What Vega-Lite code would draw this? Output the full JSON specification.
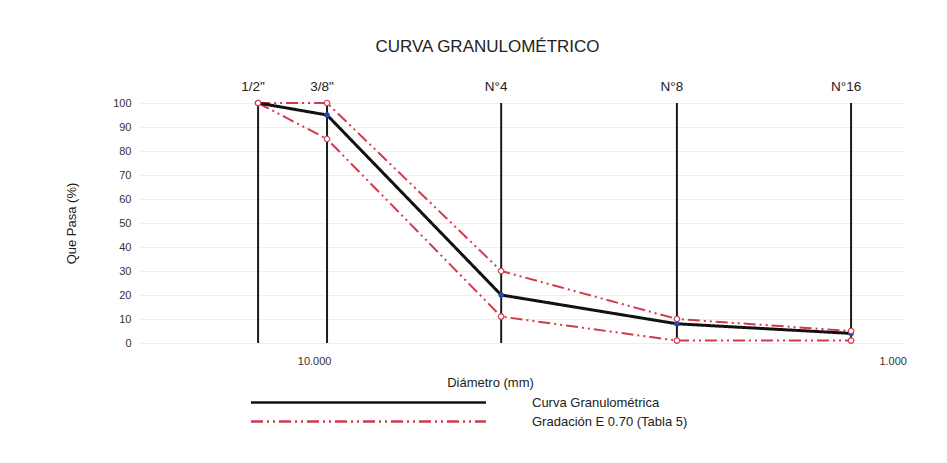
{
  "$schema": "https://vega.github.io/schema/vega-lite/v6.json",
  "width": 765,
  "height": 240,
  "autosize": {"type": "none"},
  "padding": {"left": 140, "top": 103, "right": 42, "bottom": 120},
  "background": "white",
  "config": {
    "view": {"stroke": null},
    "font": "Liberation Sans",
    "axis": {"labelFont": "Liberation Sans", "titleFont": "Liberation Sans", "labelColor": "#333", "titleColor": "#222", "titleFontWeight": "normal"},
    "legend": {"labelFont": "Liberation Sans"}
  },
  "title": {
    "text": "CURVA GRANULOMÉTRICO",
    "fontSize": 17,
    "fontWeight": "normal",
    "color": "#222",
    "dx": -35,
    "offset": 24
  },
  "datasets": {
    "curvas": [
      {"serie": "Gradación E 0.70 (Tabla 5)", "limite": "superior", "d": 12.5, "pasa": 100},
      {"serie": "Gradación E 0.70 (Tabla 5)", "limite": "superior", "d": 9.5, "pasa": 100},
      {"serie": "Gradación E 0.70 (Tabla 5)", "limite": "superior", "d": 4.75, "pasa": 30},
      {"serie": "Gradación E 0.70 (Tabla 5)", "limite": "superior", "d": 2.36, "pasa": 10},
      {"serie": "Gradación E 0.70 (Tabla 5)", "limite": "superior", "d": 1.18, "pasa": 5},
      {"serie": "Gradación E 0.70 (Tabla 5)", "limite": "inferior", "d": 12.5, "pasa": 100},
      {"serie": "Gradación E 0.70 (Tabla 5)", "limite": "inferior", "d": 9.5, "pasa": 85},
      {"serie": "Gradación E 0.70 (Tabla 5)", "limite": "inferior", "d": 4.75, "pasa": 11},
      {"serie": "Gradación E 0.70 (Tabla 5)", "limite": "inferior", "d": 2.36, "pasa": 1},
      {"serie": "Gradación E 0.70 (Tabla 5)", "limite": "inferior", "d": 1.18, "pasa": 1},
      {"serie": "Curva Granulométrica", "limite": "muestra", "d": 12.5, "pasa": 100},
      {"serie": "Curva Granulométrica", "limite": "muestra", "d": 9.5, "pasa": 95},
      {"serie": "Curva Granulométrica", "limite": "muestra", "d": 4.75, "pasa": 20},
      {"serie": "Curva Granulométrica", "limite": "muestra", "d": 2.36, "pasa": 8},
      {"serie": "Curva Granulométrica", "limite": "muestra", "d": 1.18, "pasa": 4}
    ]
  },
  "layer": [
    {
      "data": {"values": [
        {"tamiz": "1/2\"", "d": 12.5, "lo": 0, "hi": 100},
        {"tamiz": "3/8\"", "d": 9.5, "lo": 0, "hi": 100},
        {"tamiz": "N°4", "d": 4.75, "lo": 0, "hi": 100},
        {"tamiz": "N°8", "d": 2.36, "lo": 0, "hi": 100},
        {"tamiz": "N°16", "d": 1.18, "lo": 0, "hi": 100}
      ]},
      "layer": [
        {
          "mark": {"type": "rule", "color": "#1a1a1a", "strokeWidth": 2},
          "encoding": {
            "x": {"field": "d", "type": "quantitative"},
            "y": {"field": "lo", "type": "quantitative"},
            "y2": {"field": "hi"}
          }
        },
        {
          "mark": {"type": "text", "baseline": "bottom", "align": "center", "dy": -9, "dx": -5, "fontSize": 13.5, "color": "#222"},
          "encoding": {
            "x": {"field": "d", "type": "quantitative"},
            "y": {"field": "hi", "type": "quantitative"},
            "text": {"field": "tamiz"}
          }
        }
      ]
    },
    {
      "data": {"name": "curvas"},
      "transform": [{"filter": "datum.limite !== 'muestra'"}],
      "mark": {"type": "line", "strokeWidth": 2},
      "encoding": {
        "x": {"field": "d", "type": "quantitative"},
        "y": {"field": "pasa", "type": "quantitative"},
        "detail": {"field": "limite"},
        "color": {
          "field": "serie",
          "type": "nominal",
          "scale": {"domain": ["Curva Granulométrica", "Gradación E 0.70 (Tabla 5)"], "range": ["#111111", "#d23a4c"]},
          "legend": {
            "title": null,
            "orient": "none",
            "legendX": 222,
            "legendY": 293,
            "padding": 0,
            "symbolType": "M-23.5,0H23.5",
            "symbolSize": 100,
            "symbolStrokeWidth": 2.5,
            "labelOffset": 157,
            "labelFontSize": 13,
            "labelColor": "#222",
            "rowPadding": 5,
            "labelLimit": 400
          }
        },
        "strokeDash": {
          "field": "serie",
          "type": "nominal",
          "scale": {"domain": ["Curva Granulométrica", "Gradación E 0.70 (Tabla 5)"], "range": [[1, 0], [12, 4, 2, 4, 2, 4]]},
          "legend": {
            "title": null,
            "orient": "none",
            "legendX": 222,
            "legendY": 293,
            "padding": 0,
            "symbolType": "M-23.5,0H23.5",
            "symbolSize": 100,
            "symbolStrokeWidth": 2.5,
            "labelOffset": 157,
            "labelFontSize": 13,
            "labelColor": "#222",
            "rowPadding": 5,
            "labelLimit": 400
          }
        }
      }
    },
    {
      "data": {"name": "curvas"},
      "transform": [{"filter": "datum.limite === 'muestra'"}],
      "mark": {"type": "line", "strokeWidth": 3},
      "encoding": {
        "x": {"field": "d", "type": "quantitative"},
        "y": {"field": "pasa", "type": "quantitative"},
        "color": {"field": "serie", "type": "nominal"},
        "strokeDash": {"field": "serie", "type": "nominal"}
      }
    },
    {
      "data": {"name": "curvas"},
      "transform": [{"filter": "datum.limite === 'muestra'"}],
      "mark": {"type": "point", "shape": "circle", "filled": true, "color": "#2348b8", "size": 30, "opacity": 1},
      "encoding": {
        "x": {"field": "d", "type": "quantitative"},
        "y": {"field": "pasa", "type": "quantitative"}
      }
    },
    {
      "data": {"name": "curvas"},
      "transform": [{"filter": "datum.limite !== 'muestra'"}],
      "mark": {"type": "point", "shape": "circle", "filled": true, "fill": "white", "stroke": "#d23a4c", "strokeWidth": 1.2, "size": 30, "opacity": 1},
      "encoding": {
        "x": {"field": "d", "type": "quantitative"},
        "y": {"field": "pasa", "type": "quantitative"}
      }
    }
  ],
  "resolve": {"scale": {"x": "shared", "y": "shared"}},
  "encoding": {
    "x": {
      "field": "d",
      "type": "quantitative",
      "scale": {"type": "log", "domain": [0.952, 20], "reverse": true, "nice": false, "zero": false},
      "axis": {
        "values": [10, 1],
        "format": ".3f",
        "title": "Diámetro (mm)",
        "titleX": 350,
        "titleY": 33,
        "titleFontSize": 13,
        "labelFontSize": 11,
        "labelPadding": 12,
        "ticks": false,
        "domain": false,
        "grid": false
      }
    },
    "y": {
      "field": "pasa",
      "type": "quantitative",
      "scale": {"domain": [0, 100], "nice": false},
      "axis": {
        "values": [0, 10, 20, 30, 40, 50, 60, 70, 80, 90, 100],
        "title": "Que Pasa (%)",
        "titleFontSize": 13,
        "titleX": -62,
        "titleY": 120,
        "labelFontSize": 11,
        "labelPadding": 9,
        "ticks": false,
        "domain": false,
        "grid": true,
        "gridColor": "#eeeeee"
      }
    }
  }
}
